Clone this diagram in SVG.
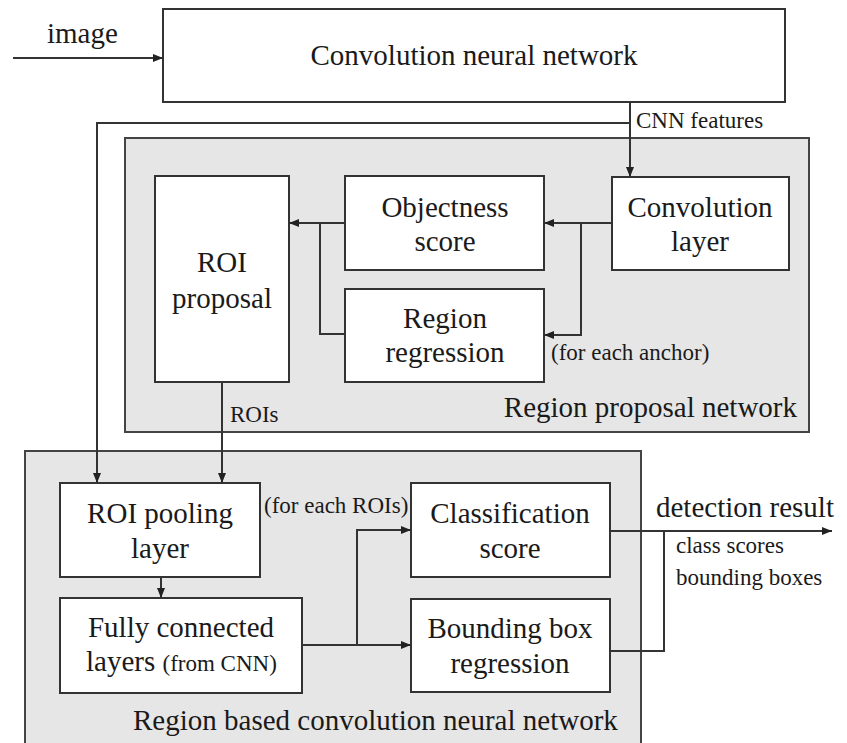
<svg xmlns="http://www.w3.org/2000/svg" width="847" height="743" viewBox="0 0 847 743" font-family="Liberation Serif, Times New Roman, serif">
<defs>
<style>
.grp{fill:#e6e6e6;stroke:#444;stroke-width:2}
.box{fill:#fff;stroke:#333;stroke-width:2}
.t{font-size:29px;fill:#1a1a1a;text-anchor:middle}
.s{font-size:23px;fill:#1a1a1a}
.l{font-size:29px;fill:#1a1a1a}
.c{fill:none;stroke:#333;stroke-width:2}
</style>
<marker id="ah" markerUnits="userSpaceOnUse" markerWidth="10" markerHeight="8" refX="10" refY="4" orient="auto">
<path d="M0,0 L10,4 L0,8 z" fill="#222"/>
</marker>
</defs>
<rect width="847" height="743" fill="#fff"/>

<g id="rpn-group">
<rect class="grp" x="125" y="138" width="684" height="294"/>
<text class="l" x="797" y="417" text-anchor="end">Region proposal network</text>
</g>
<g id="rcnn-group">
<rect class="grp" x="25" y="451" width="616" height="310"/>
<text class="l" x="133" y="730">Region based convolution neural network</text>
</g>

<g id="cnn">
<rect class="box" x="163" y="9" width="622" height="93"/>
<text class="t" x="474" y="65">Convolution neural network</text>
</g>
<g id="roi-proposal">
<rect class="box" x="155" y="176" width="134" height="206"/>
<text class="t" x="222" y="272">ROI</text>
<text class="t" x="222" y="308">proposal</text>
</g>
<g id="objectness">
<rect class="box" x="345" y="176" width="199" height="94"/>
<text class="t" x="445" y="217">Objectness</text>
<text class="t" x="445" y="251">score</text>
</g>
<g id="conv-layer">
<rect class="box" x="612" y="177" width="177" height="93"/>
<text class="t" x="700" y="217">Convolution</text>
<text class="t" x="700" y="251">layer</text>
</g>
<g id="region-regression">
<rect class="box" x="345" y="289" width="199" height="93"/>
<text class="t" x="445" y="328">Region</text>
<text class="t" x="445" y="362">regression</text>
</g>
<g id="roi-pooling">
<rect class="box" x="60" y="483" width="200" height="94"/>
<text class="t" x="160" y="523">ROI pooling</text>
<text class="t" x="160" y="558">layer</text>
</g>
<g id="fully-connected">
<rect class="box" x="60" y="598" width="242" height="95"/>
<text class="t" x="181" y="637">Fully connected</text>
<text class="l" x="86" y="671">layers <tspan font-size="23">(from CNN)</tspan></text>
</g>
<g id="classification">
<rect class="box" x="411" y="483" width="199" height="94"/>
<text class="t" x="510" y="523">Classification</text>
<text class="t" x="510" y="558">score</text>
</g>
<g id="bbox-regression">
<rect class="box" x="411" y="599" width="199" height="93"/>
<text class="t" x="510" y="638">Bounding box</text>
<text class="t" x="510" y="673">regression</text>
</g>

<g id="connectors">
<path class="c" d="M13,58 H163" marker-end="url(#ah)"/>
<path class="c" d="M630,102 V177" marker-end="url(#ah)"/>
<path class="c" d="M630,123 H97 V483" marker-end="url(#ah)"/>
<path class="c" d="M612,223 H544" marker-end="url(#ah)"/>
<path class="c" d="M581,223 V335 H544" marker-end="url(#ah)"/>
<path class="c" d="M345,223 H289" marker-end="url(#ah)"/>
<path class="c" d="M345,334 H320 V223"/>
<path class="c" d="M222,382 V483" marker-end="url(#ah)"/>
<path class="c" d="M161,577 V598" marker-end="url(#ah)"/>
<path class="c" d="M302,645 H411" marker-end="url(#ah)"/>
<path class="c" d="M357,645 V530 H411" marker-end="url(#ah)"/>
<path class="c" d="M610,531 H832" marker-end="url(#ah)"/>
<path class="c" d="M610,651 H664 V531"/>
</g>

<g id="labels">
<text class="l" x="47" y="43">image</text>
<text class="s" x="636" y="128">CNN features</text>
<text class="s" x="551" y="360">(for each anchor)</text>
<text class="s" x="230" y="422">ROIs</text>
<text class="s" x="264" y="513">(for each ROIs)</text>
<text class="l" x="656" y="517" font-size="28">detection result</text>
<text class="s" x="676" y="553" font-size="25">class scores</text>
<text class="s" x="676" y="585" font-size="25">bounding boxes</text>
</g>
</svg>
